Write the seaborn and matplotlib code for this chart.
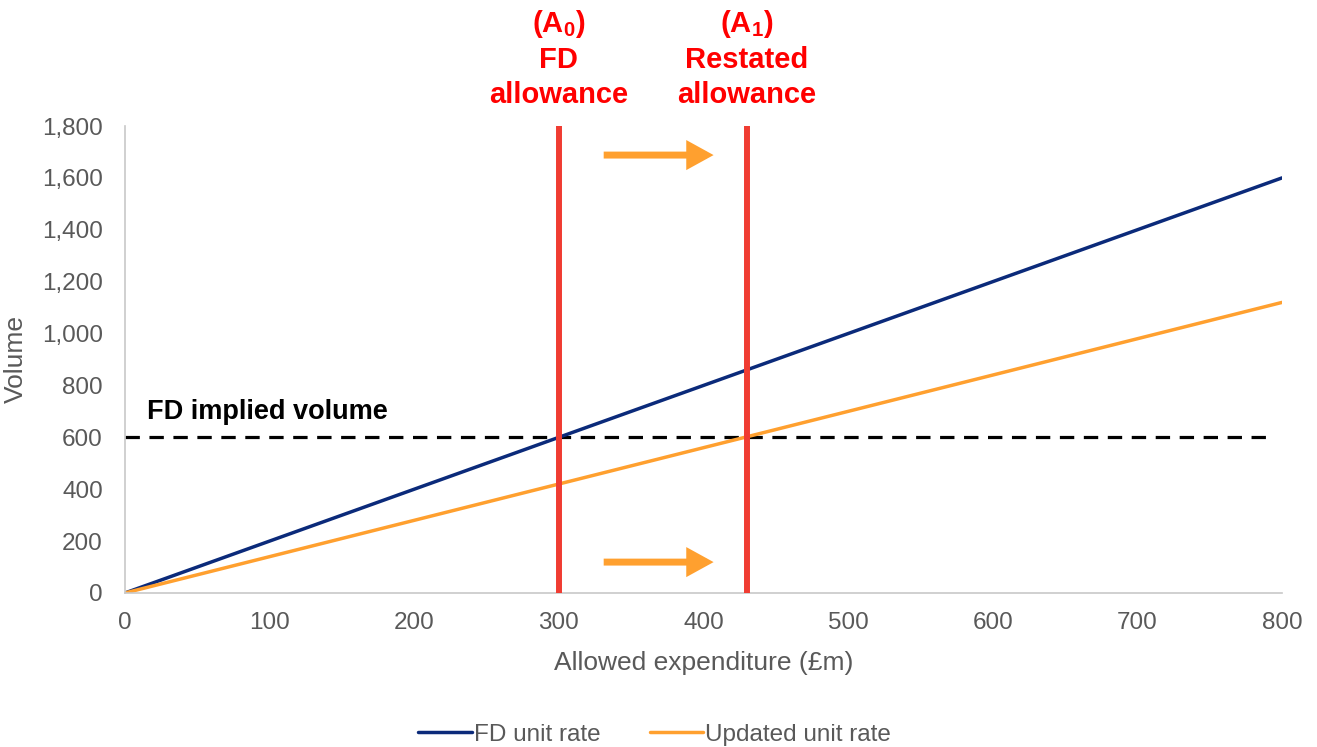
import pandas as pd
import matplotlib.pyplot as plt
import seaborn as sns

# chart data
expenditure = [0, 100, 200, 300, 400, 500, 600, 700, 800]
fd_volume = [0, 200, 400, 600, 800, 1000, 1200, 1400, 1600]
updated_volume = [0, 140, 280, 420, 560, 700, 840, 980, 1120]
series_names = ['FD unit rate', 'Updated unit rate']
fd_allowance = 300
restated_allowance = 430
implied_volume = 600

sns.set_theme(style='white')
plt.rcParams['font.family'] = ['Liberation Sans', 'DejaVu Sans']
plt.rcParams['mathtext.fontset'] = 'custom'
plt.rcParams['mathtext.rm'] = 'Liberation Sans'
plt.rcParams['mathtext.bf'] = 'Liberation Sans:bold'

df = pd.DataFrame({
    'x': expenditure * 2,
    'y': fd_volume + updated_volume,
    'series': [series_names[0]] * len(expenditure) + [series_names[1]] * len(expenditure),
})

grey = '#595959'
navy = '#0b2a7a'
orange = '#ffa02f'
red = '#f03c32'

fig = plt.figure(figsize=(13.17, 7.47), dpi=100)
ax = fig.add_axes([0.0949, 0.2062, 0.8785, 0.6251])

sns.lineplot(data=df, x='x', y='y', hue='series', palette=[navy, orange],
             linewidth=2.5, ax=ax, legend=True)

# FD implied volume
ax.plot([0, 793], [implied_volume, implied_volume], color='black', lw=2.3,
        ls=(0, (4.5, 3)), zorder=1)
ax.text(15, 698, 'FD implied volume', fontsize=19.5, fontweight='bold',
        color='black', va='center', ha='left')

# allowance lines
for xv in [fd_allowance, restated_allowance]:
    ax.axvline(xv, color=red, lw=4.3, zorder=3)

trans = ax.get_xaxis_transform()
labels = [(fd_allowance, r'(A$_{\mathbf{0}}$)', 'FD', 'allowance'),
          (restated_allowance, r'(A$_{\mathbf{1}}$)', 'Restated', 'allowance')]
for xv, l1, l2, l3 in labels:
    ax.text(xv, 1.218, l1, transform=trans, fontsize=21, fontweight='bold',
            color='red', ha='center', va='center')
    ax.text(xv, 1.141, l2, transform=trans, fontsize=21, fontweight='bold',
            color='red', ha='center', va='center')
    ax.text(xv, 1.066, l3, transform=trans, fontsize=21, fontweight='bold',
            color='red', ha='center', va='center')

# shift arrows
for yv in [1688, 119]:
    ax.annotate('', xy=(407, yv), xytext=(331, yv),
                arrowprops=dict(arrowstyle='-|>,head_length=1.0,head_width=0.55',
                                color=orange, lw=5, shrinkA=0, shrinkB=0,
                                capstyle='butt', joinstyle='miter'))

ax.set_xlim(0, 800)
ax.set_ylim(0, 1800)
ax.set_xticks(range(0, 801, 100))
ax.set_yticks(range(0, 1801, 200))
ax.set_yticklabels([f'{v:,}' for v in range(0, 1801, 200)])
ax.tick_params(colors=grey, labelsize=17.5, length=0)
ax.tick_params(axis='x', pad=14)
ax.tick_params(axis='y', pad=16)
ax.set_xlabel('Allowed expenditure (£m)', fontsize=19, color=grey, labelpad=12)
ax.set_ylabel('Volume', fontsize=19, color=grey, labelpad=10)

for s in ['top', 'right']:
    ax.spines[s].set_visible(False)
for s in ['left', 'bottom']:
    ax.spines[s].set_color('#c8c8c8')
    ax.spines[s].set_linewidth(1.2)

leg = ax.legend(loc='center', bbox_to_anchor=(0.458, -0.304), ncol=2, frameon=False,
                fontsize=17.5, handlelength=2.2, handletextpad=0.1, columnspacing=2.0)
for t in leg.get_texts():
    t.set_color(grey)

fig.savefig('out.png', dpi=100)
